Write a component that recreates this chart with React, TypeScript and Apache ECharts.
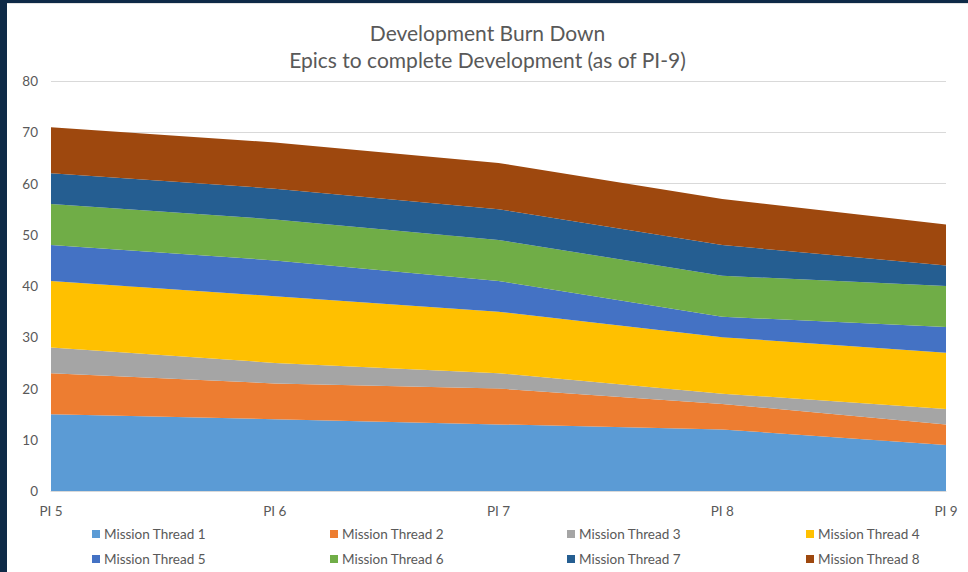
import React, { useEffect, useRef } from "react";
import * as echarts from "echarts";

// Program increments along the x-axis
const categories = ["PI 5", "PI 6", "PI 7", "PI 8", "PI 9"];

// Remaining epics per mission thread at each PI
const thread1 = [15, 14, 13, 12, 9];
const thread2 = [8, 7, 7, 5, 4];
const thread3 = [5, 4, 3, 2, 3];
const thread4 = [13, 13, 12, 11, 11];
const thread5 = [7, 7, 6, 4, 5];
const thread6 = [8, 8, 8, 8, 8];
const thread7 = [6, 6, 6, 6, 4];
const thread8 = [9, 9, 9, 9, 8];

const seriesNames = [
  "Mission Thread 1",
  "Mission Thread 2",
  "Mission Thread 3",
  "Mission Thread 4",
  "Mission Thread 5",
  "Mission Thread 6",
  "Mission Thread 7",
  "Mission Thread 8",
];
const seriesValues = [thread1, thread2, thread3, thread4, thread5, thread6, thread7, thread8];
const colors = ["#5B9BD5", "#ED7D31", "#A5A5A5", "#FFC000", "#4472C4", "#70AD47", "#255E91", "#9E480E"];

const FONT = "Lato, 'Liberation Sans', sans-serif";
const TEXT = "#595959";

export default function App() {
  const ref = useRef<HTMLDivElement>(null);

  useEffect(() => {
    if (!ref.current) return;
    const chart = echarts.init(ref.current, undefined, { renderer: "svg" });

    // Legend laid out as two rows of four fixed-width columns
    const colX = [85, 323, 560, 799];
    const rowY = [523, 548];
    const legends = seriesNames.map((name, i) => ({
      data: [name],
      left: colX[i % 4],
      top: rowY[Math.floor(i / 4)],
      padding: 0,
      icon: "rect",
      itemWidth: 8,
      itemHeight: 8,
      itemGap: 0,
      textStyle: { color: TEXT, fontSize: 13.5, fontFamily: FONT, padding: [0, 0, 0, -1] },
    }));

    chart.setOption({
      animation: false,
      color: colors,
      title: {
        text: "Development Burn Down\nEpics to complete Development (as of PI-9)",
        left: "center",
        top: 10,
        textStyle: {
          color: TEXT,
          fontSize: 21,
          fontWeight: "normal",
          fontFamily: FONT,
          lineHeight: 27,
        },
      },
      legend: legends,
      grid: { left: 44, right: 22, top: 77, bottom: 81, containLabel: false },
      xAxis: {
        type: "category",
        boundaryGap: false,
        data: categories,
        axisLine: { lineStyle: { color: "#D9D9D9", width: 1 } },
        axisTick: { show: false },
        axisLabel: { color: TEXT, fontSize: 13.5, fontFamily: FONT, margin: 13 },
      },
      yAxis: {
        type: "value",
        min: 0,
        max: 80,
        interval: 10,
        axisLine: { show: false },
        axisTick: { show: false },
        axisLabel: { color: TEXT, fontSize: 13.5, fontFamily: FONT, margin: 13 },
        splitLine: { lineStyle: { color: "#D9D9D9", width: 1 } },
      },
      series: seriesNames.map((name, i) => ({
        name,
        type: "line",
        stack: "total",
        data: seriesValues[i],
        symbol: "none",
        smooth: false,
        lineStyle: { width: 0 },
        areaStyle: { color: colors[i], opacity: 1 },
        itemStyle: { color: colors[i] },
      })),
    });

    return () => chart.dispose();
  }, []);

  return (
    <div
      style={{
        position: "fixed",
        left: 0,
        top: 0,
        width: 968,
        height: 572,
        background: "#0E2A47",
        overflow: "hidden",
      }}
    >
      <div
        style={{
          position: "absolute",
          left: 7,
          top: 3,
          width: 961,
          height: 569,
          background: "#FFFFFF",
          borderTop: "1px solid #E3E3E3",
          boxSizing: "border-box",
        }}
      >
        <div ref={ref} style={{ width: 961, height: 568 }} />
      </div>
    </div>
  );
}
